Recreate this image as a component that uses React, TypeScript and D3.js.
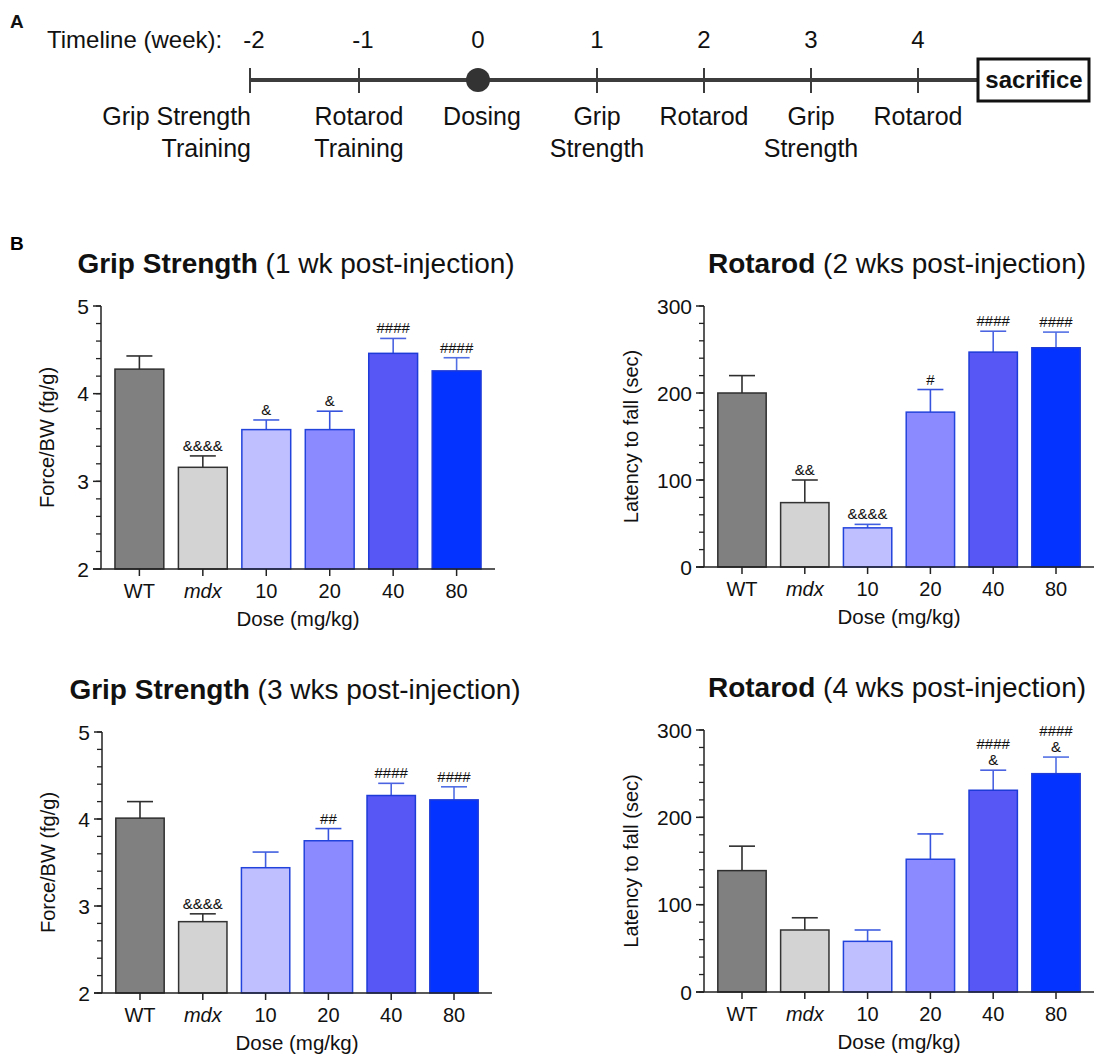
import * as d3 from 'd3';
import React from 'react';

// timeline (panel A)
const weeks = [-2, -1, 0, 1, 2, 3, 4];
const weekEvents = [
  ['Grip Strength', 'Training'],
  ['Rotarod', 'Training'],
  ['Dosing'],
  ['Grip', 'Strength'],
  ['Rotarod'],
  ['Grip', 'Strength'],
  ['Rotarod'],
];

// bar charts (panel B)
const groups = ['WT', 'mdx', '10', '20', '40', '80'];
const fills = ['#808080', '#d3d3d3', '#bfbfff', '#8b8bff', '#5757f6', '#0433ff'];
const strokes = ['#2e2e2e', '#333333', '#2243dc', '#2243dc', '#1e3bd8', '#1e3bd8'];
const errColors = ['#2e2e2e', '#333333', '#3f5ee0', '#3653de', '#4b63e0', '#5270e4'];

const grip1Mean = [4.28, 3.16, 3.59, 3.59, 4.46, 4.26];
const grip1Sem = [0.15, 0.13, 0.11, 0.21, 0.17, 0.15];
const grip1Marks = [[], ['&&&&'], ['&'], ['&'], ['####'], ['####']];

const rota2Mean = [200, 74, 45, 178, 247, 252];
const rota2Sem = [20, 26, 4, 26, 24, 18];
const rota2Marks = [[], ['&&'], ['&&&&'], ['#'], ['####'], ['####']];

const grip3Mean = [4.01, 2.82, 3.44, 3.75, 4.27, 4.22];
const grip3Sem = [0.19, 0.09, 0.18, 0.14, 0.14, 0.15];
const grip3Marks = [[], ['&&&&'], [], ['##'], ['####'], ['####']];

const rota4Mean = [139, 71, 58, 152, 231, 250];
const rota4Sem = [28, 14, 13, 29, 23, 19];
const rota4Marks = [[], [], [], [], ['####', '&'], ['####', '&']];

const FONT = '"Liberation Sans", Arial, Helvetica, sans-serif';

function Timeline() {
  // spacing in the figure is not perfectly even around week 0
  const x = d3.scaleLinear().domain([-2, -1, 0, 1, 4]).range([250, 359, 478, 597, 918]);
  const lineY = 80;
  return (
    <g fontFamily={FONT} fill="#111">
      <text x={10} y={28} fontSize={19} fontWeight="bold">A</text>
      <text x={47} y={48} fontSize={24}>Timeline (week):</text>
      <line x1={x(-2)} x2={977} y1={lineY} y2={lineY} stroke="#3c3c3c" strokeWidth={4} />
      {weeks.map((w, i) => (
        <g key={w}>
          <text x={x(w) + (w < 0 ? 4 : 0)} y={48} fontSize={24} textAnchor="middle">{w}</text>
          {w === 0 ? (
            <circle cx={x(w)} cy={lineY} r={12} fill="#333" />
          ) : (
            <line x1={x(w)} x2={x(w)} y1={lineY - 12} y2={lineY + 13} stroke="#3c3c3c" strokeWidth={2} />
          )}
          {weekEvents[i].map((t, j) => (
            <text
              key={j}
              x={i === 0 ? x(w) + 1 : x(w) + (w === 0 ? 4 : 0)}
              y={125 + j * 32}
              fontSize={25}
              textAnchor={i === 0 ? 'end' : 'middle'}
            >
              {t}
            </text>
          ))}
        </g>
      ))}
      <rect x={978} y={59} width={111} height={42} fill="#fff" stroke="#111" strokeWidth={3} />
      <text x={1034} y={88} fontSize={24} fontWeight="bold" textAnchor="middle">sacrifice</text>
    </g>
  );
}

type PanelProps = {
  x0: number; x1: number; yTop: number; yBot: number;
  domain: [number, number]; major: number; minor: number;
  means: number[]; sems: number[]; marks: string[][];
  bold: string; rest: string; yLabel: string; labelOff: number;
};

function BarPanel(p: PanelProps) {
  const x = d3.scaleBand().domain(groups).range([p.x0, p.x1]).paddingInner(0.23).paddingOuter(0.22);
  const y = d3.scaleLinear().domain(p.domain).range([p.yBot, p.yTop]);
  const minorTicks = d3.range(p.domain[0], p.domain[1] + p.minor / 2, p.minor);
  const majorTicks = d3.range(p.domain[0], p.domain[1] + p.major / 2, p.major);
  const bw = x.bandwidth();
  const capW = 26;
  const axisColor = '#222';
  const midX = (p.x0 + p.x1) / 2;
  return (
    <g fontFamily={FONT} fill="#111">
      <text x={midX - 2} y={p.yTop - 33} fontSize={28} textAnchor="middle">
        <tspan fontWeight="bold">{p.bold}</tspan>
        <tspan>{p.rest}</tspan>
      </text>
      {groups.map((g, i) => {
        const cx = x(g)! + bw / 2;
        const top = y(p.means[i]);
        const errTop = y(p.means[i] + p.sems[i]);
        return (
          <g key={g}>
            <line x1={cx} x2={cx} y1={top} y2={errTop} stroke={errColors[i]} strokeWidth={1.6} />
            <line x1={cx - capW / 2} x2={cx + capW / 2} y1={errTop} y2={errTop} stroke={errColors[i]} strokeWidth={1.6} />
            <rect x={x(g)!} y={top} width={bw} height={p.yBot - top} fill={fills[i]} stroke={strokes[i]} strokeWidth={1.5} />
            {p.marks[i].map((m, j) => (
              <text
                key={j}
                x={cx}
                y={errTop - 5 - (p.marks[i].length - 1 - j) * 16}
                fontSize={15}
                textAnchor="middle"
              >
                {m}
              </text>
            ))}
          </g>
        );
      })}
      {/* y axis */}
      <line x1={p.x0} x2={p.x0} y1={p.yTop} y2={p.yBot} stroke={axisColor} strokeWidth={1.5} />
      {minorTicks.map((t) => (
        <line key={'m' + t} x1={p.x0 - 5} x2={p.x0} y1={y(t)} y2={y(t)} stroke={axisColor} strokeWidth={1.3} />
      ))}
      {majorTicks.map((t) => (
        <g key={'M' + t}>
          <line x1={p.x0 - 8} x2={p.x0} y1={y(t)} y2={y(t)} stroke={axisColor} strokeWidth={1.5} />
          <text x={p.x0 - 12} y={y(t) + 7.5} fontSize={21} textAnchor="end">{t}</text>
        </g>
      ))}
      <text
        transform={`translate(${p.x0 - p.labelOff},${(p.yTop + p.yBot) / 2}) rotate(-90)`}
        fontSize={20}
        textAnchor="middle"
      >
        {p.yLabel}
      </text>
      {/* x axis */}
      <line x1={p.x0 - 8} x2={p.x1} y1={p.yBot} y2={p.yBot} stroke={axisColor} strokeWidth={1.5} />
      {groups.map((g) => {
        const cx = x(g)! + bw / 2;
        return (
          <g key={'x' + g}>
            <line x1={cx} x2={cx} y1={p.yBot} y2={p.yBot + 7} stroke={axisColor} strokeWidth={1.5} />
            <text x={cx} y={p.yBot + 29} fontSize={20} textAnchor="middle" fontStyle={g === 'mdx' ? 'italic' : 'normal'}>
              {g}
            </text>
          </g>
        );
      })}
      <text x={midX} y={p.yBot + 57} fontSize={20.5} textAnchor="middle">Dose (mg/kg)</text>
    </g>
  );
}

export default function App() {
  return (
    <svg width={1095} height={1058} style={{ position: 'absolute', left: 0, top: 0, background: '#fff' }}>
      <rect width={1095} height={1058} fill="#fff" />
      <Timeline />
      <text x={10} y={250} fontSize={19} fontWeight="bold" fontFamily={FONT}>B</text>
      <BarPanel x0={101} x1={495} yTop={306} yBot={569} domain={[2, 5]} major={1} minor={0.2}
        means={grip1Mean} sems={grip1Sem} marks={grip1Marks}
        bold="Grip Strength" rest=" (1 wk post-injection)" yLabel="Force/BW (fg/g)" labelOff={47} />
      <BarPanel x0={704} x1={1094} yTop={306} yBot={567} domain={[0, 300]} major={100} minor={20}
        means={rota2Mean} sems={rota2Sem} marks={rota2Marks}
        bold="Rotarod" rest=" (2 wks post-injection)" yLabel="Latency to fall (sec)" labelOff={66} />
      <BarPanel x0={102} x1={492} yTop={732} yBot={993} domain={[2, 5]} major={1} minor={0.2}
        means={grip3Mean} sems={grip3Sem} marks={grip3Marks}
        bold="Grip Strength" rest=" (3 wks post-injection)" yLabel="Force/BW (fg/g)" labelOff={47} />
      <BarPanel x0={704} x1={1094} yTop={730} yBot={992} domain={[0, 300]} major={100} minor={20}
        means={rota4Mean} sems={rota4Sem} marks={rota4Marks}
        bold="Rotarod" rest=" (4 wks post-injection)" yLabel="Latency to fall (sec)" labelOff={66} />
    </svg>
  );
}
